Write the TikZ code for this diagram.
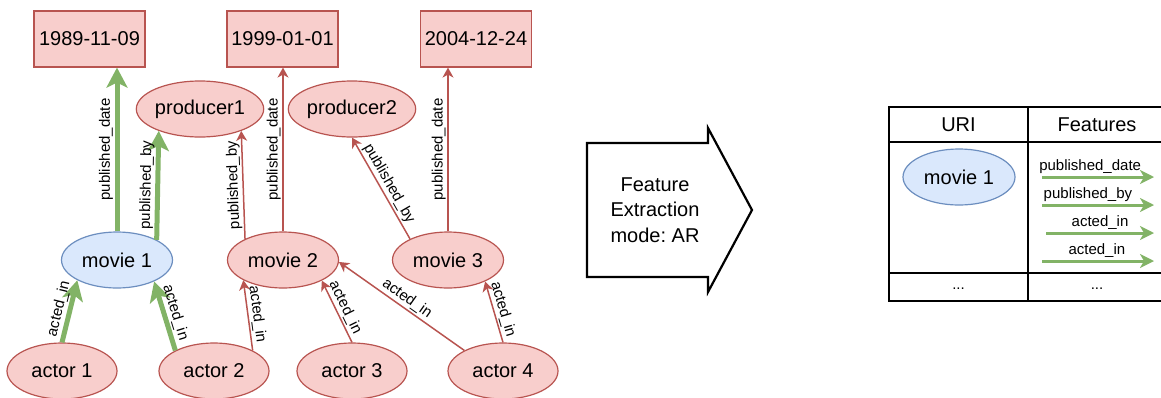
\documentclass[tikz,border=0pt]{standalone}
\usepackage{fontspec}
\setmainfont{Liberation Sans}
\usetikzlibrary{shapes.geometric,arrows.meta}
\definecolor{pinkF}{HTML}{F8CECC}
\definecolor{redS}{HTML}{B85450}
\definecolor{blueF}{HTML}{DAE8FC}
\definecolor{blueS}{HTML}{6C8EBF}
\definecolor{greenS}{HTML}{82B366}
\frenchspacing
\begin{document}
\begin{tikzpicture}[x=1pt,y=-1pt,
  ell/.style={ellipse, draw=redS, fill=pinkF, line width=1.2pt, minimum width=111pt, minimum height=56pt, inner sep=0pt, font=\fontsize{20}{24}\selectfont},
  bell/.style={ell, draw=blueS, fill=blueF},
  datebox/.style={rectangle, draw=redS, fill=pinkF, line width=1.2pt, minimum width=111pt, minimum height=56pt, inner sep=0pt, font=\fontsize{20}{24}\selectfont},
  lbl/.style={font=\fontsize{15}{18}\selectfont, sloped, above, inner sep=1.5pt, midway},
  redE/.style={draw=redS, line width=1.5pt, -{Stealth[length=10pt,width=11pt,inset=3pt]}},
  greenE/.style={draw=greenS, line width=5pt, -{Stealth[length=20pt,width=21pt,inset=5pt]}},
  featE/.style={draw=greenS, line width=3pt, -{Stealth[length=14pt,width=14pt,inset=4pt]}},
  flbl/.style={font=\fontsize{15}{18}\selectfont, above, inner sep=2pt},
  tbl/.style={line width=2pt, draw=black},
  ttxt/.style={font=\fontsize{20}{24}\selectfont, inner sep=0pt}
]
\useasboundingbox (0,0) rectangle (1161,397);

% date boxes
\node[datebox] (d1) at (89.5,39) {1989-11-09};
\node[datebox] (d2) at (282.5,39) {1999-01-01};
\node[datebox] (d3) at (476,39) {2004-12-24};

% producers
\node[ell, minimum width=110pt] (p1) at (200,109) {producer1};
\node[ell, minimum width=110pt] (p2) at (352,109) {producer2};

% movies
\node[bell] (m1) at (117,260) {movie 1};
\node[ell] (m2) at (283,260) {movie 2};
\node[ell] (m3) at (448,260) {movie 3};

% actors
\node[ell, minimum width=110pt] (a1) at (62,371) {actor 1};
\node[ell, minimum width=110pt] (a2) at (214,371) {actor 2};
\node[ell, minimum width=110pt] (a3) at (352,371) {actor 3};
\node[ell, minimum width=110pt] (a4) at (503,371) {actor 4};

% edges
\draw[greenE] (m1.north) -- (m1.north |- d1.south) node[lbl] {published\_date};
\draw[greenE] (m1.27) -- (p1.208) node[lbl] {published\_by};
\draw[redE] (m2.151) -- (p1.332) node[lbl, allow upside down] {published\_by};
\draw[redE] (m2.north) -- (m2.north |- d2.south) node[lbl] {published\_date};
\draw[redE] (m3.151) -- (p2.south) node[lbl] {published\_by};
\draw[redE] (m3.north) -- (m3.north |- d3.south) node[lbl] {published\_date};

\draw[greenE] (a1.north) -- (m1.207) node[lbl] {acted\_in};
\draw[greenE] (a2.152) -- (m1.330) node[lbl] {acted\_in};
\draw[redE] (a2.28) -- (m2.207) node[lbl] {acted\_in};
\draw[redE] (a3.north) -- (m2.332) node[lbl] {acted\_in};
\draw[redE] (a4.152) -- (m2.358) node[lbl] {acted\_in};
\draw[redE] (a4.north) -- (m3.330) node[lbl] {acted\_in};

% block arrow
\draw[line width=2.2pt, line join=miter] (587,143) -- (708,143) -- (708,128) -- (752,210) -- (708,292) -- (708,277) -- (587,277) -- cycle;
\node[font=\fontsize{20}{25.5}\selectfont, align=center] (fe) at (655,210) {Feature\\Extraction\\mode: AR};

% table
\draw[tbl] (889,107) rectangle (1170,301);
\draw[tbl] (889,142) -- (1170,142);
\draw[tbl] (889,273) -- (1170,273);
\draw[tbl] (1028,107) -- (1028,301);
\node[ttxt] (huri) at (958.5,125) {URI};
\node[ttxt] (hfeat) at (1097,125) {Features};
\node[bell, minimum width=112pt] (tm1) at (959,177) {movie 1};
\node[font=\fontsize{15}{18}\selectfont] (dots1) at (958.5,289) {...};
\node[font=\fontsize{15}{18}\selectfont] (dots2) at (1097,289) {...};

\coordinate (f1s) at (1042,177); \coordinate (f1e) at (1154,177);
\coordinate (f2s) at (1042,205); \coordinate (f2e) at (1154,205);
\coordinate (f3s) at (1046,233); \coordinate (f3e) at (1154,233);
\coordinate (f4s) at (1042,261); \coordinate (f4e) at (1154,261);
\draw[featE] (f1s) -- (f1e) node[flbl, pos=0.43] {published\_date};
\draw[featE] (f2s) -- (f2e) node[flbl, pos=0.41] {published\_by};
\draw[featE] (f3s) -- (f3e) node[flbl, pos=0.5] {acted\_in};
\draw[featE] (f4s) -- (f4e) node[flbl, pos=0.49] {acted\_in};
\end{tikzpicture}
\end{document}
